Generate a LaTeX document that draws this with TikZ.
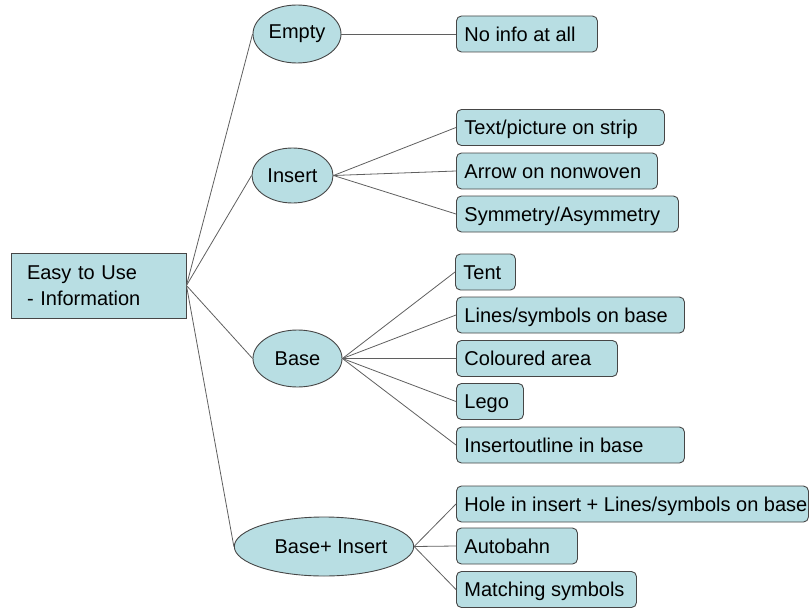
\documentclass[tikz,border=0pt]{standalone}
\usepackage{fontspec}
\setmainfont{Liberation Sans}
\usetikzlibrary{shapes.geometric}
\definecolor{boxfill}{RGB}{184,222,227}
\definecolor{boxline}{RGB}{70,70,70}
\definecolor{linkline}{RGB}{95,95,95}
% left-aligned label of a fixed width inside a leaf box
\newcommand\leaflabel[2]{\makebox[#1][l]{#2}}
\tikzset{
  rootbox/.style={draw=boxline, fill=boxfill, line width=0.9pt, rectangle,
    minimum width=175pt, minimum height=65pt, inner xsep=16pt,
    text width=143pt, align=left, font=\fontsize{20}{26}\selectfont},
  topic/.style={draw=boxline, fill=boxfill, line width=0.9pt, ellipse,
    inner sep=0pt, font=\fontsize{20}{24}\selectfont},
  leaf/.style={draw=boxline, fill=boxfill, line width=0.9pt, rectangle,
    rounded corners=5pt, anchor=west, minimum height=36pt, inner xsep=8pt,
    text height=14.4pt, text depth=0pt,
    font=\fontsize{20}{24}\selectfont},
  link/.style={draw=linkline, line width=0.8pt}
}
\begin{document}
\begin{tikzpicture}[x=1pt, y=-1pt]
\useasboundingbox (0,0) rectangle (810,607);

% root
\node[rootbox] (root) at (98.5,285.5) {Easy to Use\\- Information};

% second level
\node[topic, minimum width=88pt, minimum height=58pt] (empty) at (297,34) {Empty};
\node[topic, minimum width=81pt, minimum height=55pt] (insert) at (292.5,175.5) {Insert};
\node[topic, minimum width=89pt, minimum height=57pt] (base) at (297.5,358.5) {Base};
\node[topic, minimum width=142pt, minimum height=59pt] (both) at (324,546.5) {\hspace*{14pt}Base+ Insert};

% leaves
\node[leaf] (noinfo) at (456,34) {\leaflabel{125pt}{No info at all}};
\node[leaf] (strip) at (456,127.5) {\leaflabel{192pt}{Text/picture on strip}};
\node[leaf] (arrow) at (456,171) {\leaflabel{185pt}{Arrow on nonwoven}};
\node[leaf] (sym) at (456,214) {\leaflabel{206pt}{Symmetry/Asymmetry}};
\node[leaf] (tent) at (455,272) {\leaflabel{44pt}{Tent}};
\node[leaf] (lines) at (456,315) {\leaflabel{212pt}{Lines/symbols on base}};
\node[leaf] (area) at (456,358.5) {\leaflabel{145pt}{Coloured area}};
\node[leaf] (lego) at (456,401.5) {\leaflabel{51pt}{Lego}};
\node[leaf] (outline) at (456,445) {\leaflabel{212pt}{Insertoutline in base}};
\node[leaf, inner xsep=5pt] (hole) at (456,504) {\leaflabel{342pt}{\hspace*{3pt}Hole in insert + Lines/symbols on base}};
\node[leaf] (autobahn) at (456,546) {\leaflabel{105pt}{Autobahn}};
\node[leaf] (match) at (456,589.5) {\leaflabel{164pt}{Matching symbols}};

% connectors
\foreach \t in {empty, insert, base, both}
  \draw[link] (root.east) -- (\t.west);
\draw[link] (empty.east) -- (noinfo.west);
\foreach \t in {strip, arrow, sym}
  \draw[link] (insert.east) -- (\t.west);
\foreach \t in {tent, lines, area, lego, outline}
  \draw[link] (base.east) -- (\t.west);
\foreach \t in {hole, autobahn, match}
  \draw[link] (both.east) -- (\t.west);
\end{tikzpicture}
\end{document}
